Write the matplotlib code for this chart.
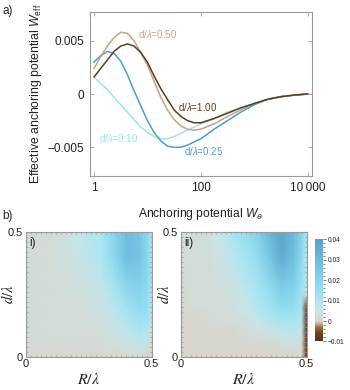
import numpy as np
import matplotlib
matplotlib.use("Agg")
import matplotlib.pyplot as plt
from matplotlib.colors import LinearSegmentedColormap, Normalize
from matplotlib.ticker import FixedLocator, FixedFormatter, NullLocator, MultipleLocator
import matplotlib.cm as cm

plt.rcParams['font.family'] = ['Liberation Sans', 'DejaVu Sans']
plt.rcParams['mathtext.fontset'] = 'custom'
plt.rcParams['mathtext.rm'] = 'Liberation Sans'
plt.rcParams['mathtext.it'] = 'Liberation Sans:italic'

# ---- panel a: effective anchoring potential vs anchoring potential ----
W = [1, 1.33, 1.78, 2.37, 3.16, 4.22, 5.62, 7.5, 10, 13.3, 17.8, 23.7, 31.6,
     42.2, 56.2, 75, 100, 178, 316, 562, 1000, 1778, 3162, 5623, 10000]
W_eff_010 = [0.0016, 0.0010, 0.0004, -0.0003, -0.0010, -0.0017, -0.0024, -0.0031,
             -0.0036, -0.0040, -0.0042, -0.0042, -0.0040, -0.0037, -0.0034, -0.0031,
             -0.0028, -0.0023, -0.0017, -0.0013, -0.00085, -0.0005, -0.00027, -0.0001, 0.0]
W_eff_025 = [0.0030, 0.0036, 0.0040, 0.0038, 0.0031, 0.0018, 0.0003, -0.0011,
             -0.0025, -0.0036, -0.0044, -0.0049, -0.0050, -0.0050, -0.0048, -0.0045,
             -0.0042, -0.0033, -0.0025, -0.0017, -0.0010, -0.0005, -0.00025, -0.0001, 0.0]
W_eff_050 = [0.0024, 0.0035, 0.0045, 0.0053, 0.0058, 0.0057, 0.0050, 0.0039,
             0.0027, 0.0012, -0.0003, -0.0015, -0.0024, -0.0030, -0.0033, -0.0034,
             -0.0033, -0.0028, -0.0021, -0.0015, -0.0009, -0.0005, -0.00025, -0.0001, 0.0]
W_eff_100 = [0.0016, 0.0024, 0.0032, 0.0040, 0.0045, 0.0047, 0.0045, 0.0039,
             0.0030, 0.0017, 0.0005, -0.0005, -0.0015, -0.0021, -0.0025, -0.0027,
             -0.0027, -0.0023, -0.0018, -0.0013, -0.0009, -0.0005, -0.00025, -0.0001, 0.0]
curve_labels = ["d/$\\lambda$=0.10", "d/$\\lambda$=0.25", "d/$\\lambda$=0.50", "d/$\\lambda$=1.00"]
curve_colors = ["#9be5f1", "#4b9fc8", "#c6a384", "#5e3b1f"]
xtick_vals = [1, 100, 10000]
xtick_labels = ["1", "100", "10\u2009000"]
ytick_vals = [-0.005, 0, 0.005]
ytick_labels = ["\u22120.005", "0", "0.005"]

# ---- panel b: heat maps (rows: d/lambda, cols: R/lambda) ----
R_i = [0, 0.1, 0.2, 0.3, 0.35, 0.4, 0.45, 0.48, 0.5]
d_i = [0, 0.02, 0.1, 0.2, 0.3, 0.4, 0.5]
Z_i = [
    [0.000, 0.000, 0.000, 0.000, 0.000, 0.000, 0.000, 0.000, 0.000],
    [0.001, 0.001, 0.001, 0.002, 0.002, 0.003, 0.004, 0.003, 0.000],
    [0.0025, 0.003, 0.003, 0.003, 0.005, 0.007, 0.010, 0.009, 0.004],
    [0.0025, 0.003, 0.003, 0.005, 0.008, 0.013, 0.017, 0.016, 0.010],
    [0.0025, 0.003, 0.004, 0.007, 0.013, 0.020, 0.022, 0.018, 0.012],
    [0.0025, 0.003, 0.005, 0.010, 0.018, 0.029, 0.027, 0.020, 0.012],
    [0.0025, 0.003, 0.006, 0.011, 0.019, 0.029, 0.026, 0.018, 0.012],
]
R_ii = [0, 0.05, 0.1, 0.15, 0.2, 0.25, 0.3, 0.35, 0.4, 0.45, 0.48, 0.5]
d_ii = [0, 0.02, 0.05, 0.1, 0.15, 0.2, 0.25, 0.3, 0.4, 0.5]
Z_ii = [
    [0.000, 0.000, 0.000, 0.000, 0.000, 0.000, 0.000, 0.000, 0.000, 0.000, 0.000, -0.010],
    [0.000, 0.000, 0.000, 0.000, 0.000, 0.000, 0.000, 0.000, 0.000, 0.002, 0.002, -0.010],
    [0.000, 0.000, 0.000, 0.000, 0.000, 0.000, 0.000, 0.001, 0.003, 0.004, 0.003, -0.010],
    [0.000, 0.000, 0.000, 0.000, 0.000, 0.003, 0.004, 0.005, 0.007, 0.008, 0.006, -0.010],
    [0.000, 0.000, 0.002, 0.003, 0.003, 0.004, 0.006, 0.009, 0.012, 0.012, 0.009, -0.009],
    [0.000, 0.003, 0.003, 0.003, 0.004, 0.006, 0.009, 0.013, 0.017, 0.016, 0.012, -0.006],
    [0.000, 0.003, 0.003, 0.003, 0.004, 0.007, 0.010, 0.015, 0.021, 0.019, 0.013, 0.002],
    [0.002, 0.003, 0.003, 0.004, 0.005, 0.008, 0.012, 0.018, 0.025, 0.022, 0.015, 0.008],
    [0.003, 0.003, 0.003, 0.005, 0.007, 0.011, 0.016, 0.025, 0.036, 0.028, 0.018, 0.008],
    [0.003, 0.003, 0.004, 0.006, 0.010, 0.015, 0.020, 0.030, 0.038, 0.030, 0.020, 0.010],
]
cbar_ticks = [-0.01, 0, 0.01, 0.02, 0.03, 0.04]
cbar_labels = ["\u22120.01", "0", "0.01", "0.02", "0.03", "0.04"]

# colour scale, brown -> grey -> cyan -> blue
vmin, vmax = -0.01, 0.04
cmap_nodes = [(-0.010, "#58341a"), (-0.006, "#6a4222"), (-0.003, "#9a6e48"),
              (-0.001, "#cdb9a4"), (0.000, "#d9d6cf"), (0.003, "#d3dcd7"),
              (0.006, "#c6e6ea"), (0.010, "#ade6f2"), (0.015, "#98e0f2"),
              (0.020, "#86d4ec"), (0.030, "#6cbcdc"), (0.040, "#5aa0c6")]
cmap = LinearSegmentedColormap.from_list(
    "anch", [((v - vmin) / (vmax - vmin), c) for v, c in cmap_nodes])
norm = Normalize(vmin, vmax)

frame = "#9a9a9a"
txt = "#222222"

fig = plt.figure(figsize=(3.5, 3.9), dpi=100)

ax = fig.add_axes([0.2571, 0.5487, 0.6334, 0.4205])
for ys, col in zip([W_eff_010, W_eff_025, W_eff_050, W_eff_100], curve_colors):
    ax.plot(W, ys, color=col, lw=1.1)
ax.set_xscale("log")
ax.set_xlim(0.84, 11900)
ax.set_ylim(-0.0077, 0.0077)
ax.xaxis.set_major_locator(FixedLocator(xtick_vals))
ax.xaxis.set_major_formatter(FixedFormatter(xtick_labels))
ax.xaxis.set_minor_locator(NullLocator())
ax.yaxis.set_major_locator(FixedLocator(ytick_vals))
ax.yaxis.set_major_formatter(FixedFormatter(ytick_labels))
ax.tick_params(direction="in", length=3, width=0.6, color=frame, labelsize=8.5,
               labelcolor=txt, top=True, right=True, pad=4)
for s in ax.spines.values():
    s.set_color(frame)
    s.set_linewidth(0.8)
ax.set_xlabel(r"Anchoring potential $W_\theta$", fontsize=8.7, color=txt, labelpad=9)
ax.set_ylabel(r"Effective anchoring potential $W_{\rm eff}$", fontsize=8.8, color=txt, labelpad=3)

lab_pos = [(1.24, -0.0041), (48, -0.00535), (6.6, 0.0056), (37, -0.00123)]
for (lx, ly), lab, col in zip(lab_pos, curve_labels, curve_colors):
    ax.text(lx, ly, lab, color=col, fontsize=7, ha="left", va="center")

fig.text(0.006, 0.972, "a)", fontsize=8.5, color=txt, va="center")
fig.text(0.006, 0.447, "b)", fontsize=8.5, color=txt, va="center")

# heat maps
for left, R, d, Z, tag, ypos in [(0.0734, R_i, d_i, Z_i, "i)", -0.08),
                                 (0.5163, R_ii, d_ii, Z_ii, "ii)", -0.07)]:
    bx = fig.add_axes([left, 0.0854, 0.36, 0.319])
    bx.pcolormesh(R, d, np.array(Z), cmap=cmap, norm=norm, shading="gouraud")
    bx.set_xlim(0, 0.5)
    bx.set_ylim(0, 0.5)
    bx.set_xticks([0, 0.5])
    bx.set_xticklabels(["0", "0.5"])
    bx.set_yticks([0, 0.5])
    bx.set_yticklabels(["0", "0.5"])
    bx.xaxis.set_minor_locator(MultipleLocator(0.02))
    bx.yaxis.set_minor_locator(MultipleLocator(0.02))
    bx.tick_params(which="both", direction="in", color=frame, width=0.5,
                   top=True, right=True, labelsize=8, labelcolor=txt, pad=2)
    bx.tick_params(which="major", length=3)
    bx.tick_params(which="minor", length=1.5)
    for s in bx.spines.values():
        s.set_color(frame)
        s.set_linewidth(0.8)
    bx.set_xlabel(r"$R/\lambda$", fontsize=11.5, color=txt, labelpad=2,
                  math_fontfamily="stix")
    bx.set_ylabel(r"$d/\lambda$", fontsize=10.5, color=txt, math_fontfamily="stix")
    bx.yaxis.set_label_coords(ypos, 0.5)
    bx.text(0.03, 0.96, tag, transform=bx.transAxes, fontsize=8.5, color=txt,
            ha="left", va="top")

cax = fig.add_axes([0.9, 0.1244, 0.022, 0.262])
cb = fig.colorbar(cm.ScalarMappable(norm=norm, cmap=cmap), cax=cax)
cb.set_ticks(cbar_ticks)
cb.set_ticklabels(cbar_labels)
cb.outline.set_visible(False)
cax.yaxis.set_minor_locator(MultipleLocator(0.002))
cax.tick_params(which="both", direction="out", color="#444444", width=0.5,
                labelsize=4.8, labelcolor=txt, pad=1)
cax.tick_params(which="major", length=2.5)
cax.tick_params(which="minor", length=1.2)

fig.savefig("out.png", dpi=100)
